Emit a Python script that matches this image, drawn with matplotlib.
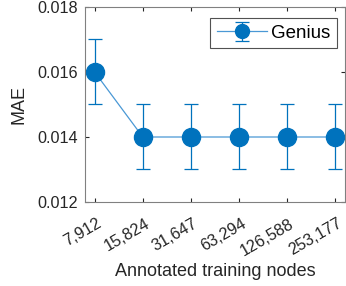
import numpy as np
import matplotlib
matplotlib.use('Agg')
import matplotlib.pyplot as plt
import matplotlib.transforms as mtransforms

# data
nodes = ['7,912', '15,824', '31,647', '63,294', '126,588', '253,177']
mae = [0.016, 0.014, 0.014, 0.014, 0.014, 0.014]
err = [0.001, 0.001, 0.001, 0.001, 0.001, 0.001]

plt.rcParams['font.family'] = ['Liberation Sans', 'DejaVu Sans']
blue = '#0072BD'
lightblue = '#4a98d5'
gray = '#262626'

fig = plt.figure(figsize=(3.46, 2.86), dpi=100)
ax = fig.add_axes([85/346, 1-202/286, 260/346, 195/286])

x = np.arange(1, len(nodes)+1)
ax.errorbar(x, mae, yerr=err, color=lightblue, mfc=blue, mec=blue, ecolor=blue,
            marker='o', markersize=13, linewidth=0.9, elinewidth=0.9,
            capsize=5, capthick=0.9, label='Genius')

ax.set_xlim(0.8, 6.2)
ax.set_ylim(0.012, 0.018)
ax.set_yticks([0.012, 0.014, 0.016, 0.018])
ax.set_yticklabels(['0.012', '0.014', '0.016', '0.018'])
ax.set_xticks(x)
ax.set_xticklabels(nodes, rotation=30, ha='right', rotation_mode='anchor')
ax.tick_params(direction='in', length=3, width=0.8, colors=gray, labelsize=11.7,
               top=True, right=True, pad=5)
ax.tick_params(axis='x', pad=10)
shift = mtransforms.ScaledTranslation(2/100, 0, fig.dpi_scale_trans)
for lab in ax.get_xticklabels():
    lab.set_transform(lab.get_transform() + shift)
for s in ax.spines.values():
    s.set_color('#808080')
    s.set_linewidth(0.8)
ax.set_xlabel('Annotated training nodes', fontsize=13, color=gray, labelpad=3.5)
ax.set_ylabel('MAE', fontsize=13, color=gray, labelpad=7)

leg = ax.legend(loc='upper right', bbox_to_anchor=((337-85)/260, (202-18)/195),
                borderaxespad=0, fontsize=13.5, frameon=True, fancybox=False,
                edgecolor=gray, handlelength=2.65, borderpad=0.35,
                handletextpad=0.25, markerscale=0.77)
leg.get_frame().set_linewidth(0.8)

fig.savefig('out.png', dpi=100)
